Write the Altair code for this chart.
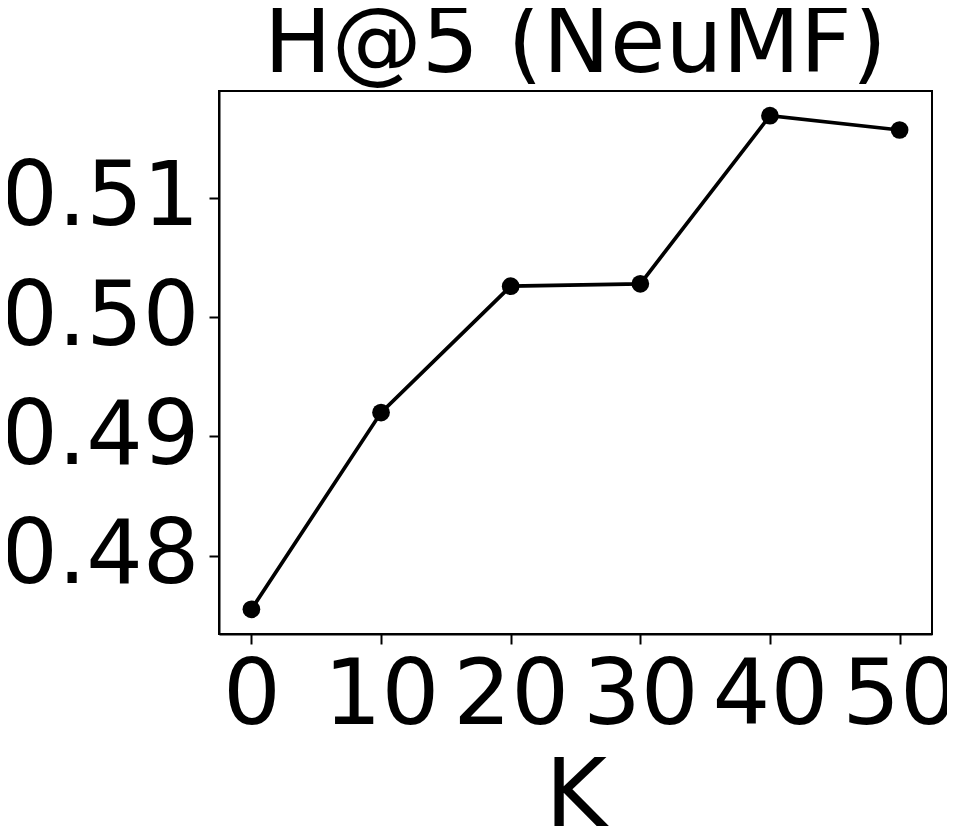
import altair as alt
import pandas as pd

k_values = [0, 10, 20, 30, 40, 50]
h5_values = [0.4755, 0.4920, 0.5026, 0.5028, 0.5169, 0.5157]
x_ticks = [0, 10, 20, 30, 40, 50]
y_ticks = [0.48, 0.49, 0.50, 0.51]

df = pd.DataFrame({"K": k_values, "H5": h5_values})

base = alt.Chart(df).encode(
    x=alt.X("K:Q",
            scale=alt.Scale(domain=[-2.5, 52.5], nice=False, zero=False),
            axis=alt.Axis(values=x_ticks, title="K", grid=False,
                          labelFontSize=91, titleFontSize=94,
                          labelFont="DejaVu Sans", titleFont="DejaVu Sans",
                          titleFontWeight="normal", labelColor="black", titleColor="black",
                          tickSize=10, tickWidth=2, tickColor="black",
                          domainColor="black", domainWidth=2,
                          labelPadding=7, labelFlush=False, labelOverlap=False,
                          labelLimit=0,
                          titleBaseline="alphabetic", titleY=191)),
    y=alt.Y("H5:Q",
            scale=alt.Scale(domain=[0.47343, 0.51897], nice=False, zero=False),
            axis=alt.Axis(values=y_ticks, format=".2f", title=None, grid=False,
                          labelFontSize=89, labelFont="DejaVu Sans", labelColor="black",
                          tickSize=10, tickWidth=2, tickColor="black",
                          domainColor="black", domainWidth=2,
                          labelPadding=10, labelFlush=False, labelOverlap=False,
                          labelLimit=0, labelBaseline="middle")),
)

line = base.mark_line(color="black", strokeWidth=3.7)
points = base.mark_point(filled=True, color="black", size=314, opacity=1, shape="circle")

chart = (line + points).properties(
    width=713,
    height=543,
    autosize=alt.AutoSizeParams(type="none"),
    padding={"left": 211, "top": 83, "right": 15, "bottom": 192},
    title=alt.TitleParams("H@5 (NeuMF)", fontSize=90, font="DejaVu Sans",
                          fontWeight="normal", color="black", anchor="middle",
                          offset=0),
).configure(background="white").configure_view(stroke="black", strokeWidth=2)

chart.save("out.html", embed_options={"renderer": "svg", "actions": False})
